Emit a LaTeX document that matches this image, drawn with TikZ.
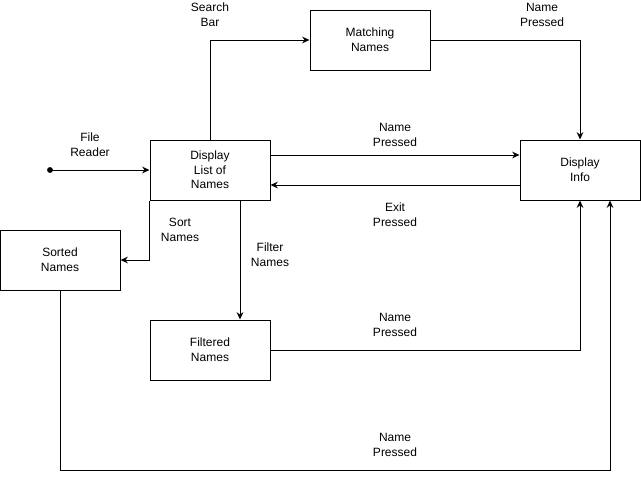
\documentclass[tikz,border=0pt]{standalone}
\usepackage{fontspec}
\setmainfont{Liberation Sans}
\usetikzlibrary{arrows.meta}
\tikzset{
    flowbox/.style={draw, line width=0.75pt, minimum width=90pt, minimum height=45pt, align=center, inner sep=0pt, font=\fontsize{9}{11}\selectfont},
    flowlabel/.style={align=center, font=\fontsize{9}{11}\selectfont},
    flowline/.style={line width=0.75pt, -{Stealth[length=5.5pt,width=5pt]}}
}
\begin{document}
\begin{tikzpicture}[x=0.75pt, y=-0.75pt]
        \useasboundingbox (0,0) rectangle (641,479);

        % Draw the boxes
        \node[flowbox] (match) at (370, 40) {Matching\\Names};
        \node[flowbox] (list) at (210, 170) {Display\\List of\\Names};
        \node[flowbox] (info) at (580, 170) {Display\\Info};
        \node[flowbox] (sorted) at (60, 260) {Sorted\\Names};
        \node[flowbox] (filtered) at (210, 350) {Filtered\\Names};

        % Start point
        \fill (50, 170) circle (2.2pt) coordinate (start);

        % Connectors between boxes
        \draw[flowline] (start) -- (list.west);
        \draw[flowline] (list.north) |- (match.west);
        \draw[flowline] (match.east) -| (info.north);
        \draw[flowline] ([yshift=11.25pt]list.east) -- ([yshift=11.25pt]info.west);
        \draw[flowline] ([yshift=-11.25pt]info.west) -- ([yshift=-11.25pt]list.east);
        \draw[flowline] (list.south west) |- (sorted.east);
        \draw[flowline] ([xshift=22.5pt]list.south) -- ([xshift=22.5pt]filtered.north);
        \draw[flowline] (filtered.east) -| (info.south);
        \draw[flowline] (sorted.south) -- ++(0, 180) -| ([xshift=22.5pt]info.south);

        % Add labels along the connectors
        \node[flowlabel] (lblreader) at (90, 145) {File\\Reader};
        \node[flowlabel] (lblsearch) at (210, 15) {Search\\Bar};
        \node[flowlabel] (lbltop) at (542, 15) {Name\\Pressed};
        \node[flowlabel] (lblmid) at (395, 135) {Name\\Pressed};
        \node[flowlabel] (lblexit) at (395, 215) {Exit\\Pressed};
        \node[flowlabel] (lblsort) at (180, 230) {Sort\\Names};
        \node[flowlabel] (lblfilter) at (270, 255) {Filter\\Names};
        \node[flowlabel] (lblfiltered) at (395, 325) {Name\\Pressed};
        \node[flowlabel] (lblsorted) at (395, 445) {Name\\Pressed};

    \end{tikzpicture}
\end{document}
